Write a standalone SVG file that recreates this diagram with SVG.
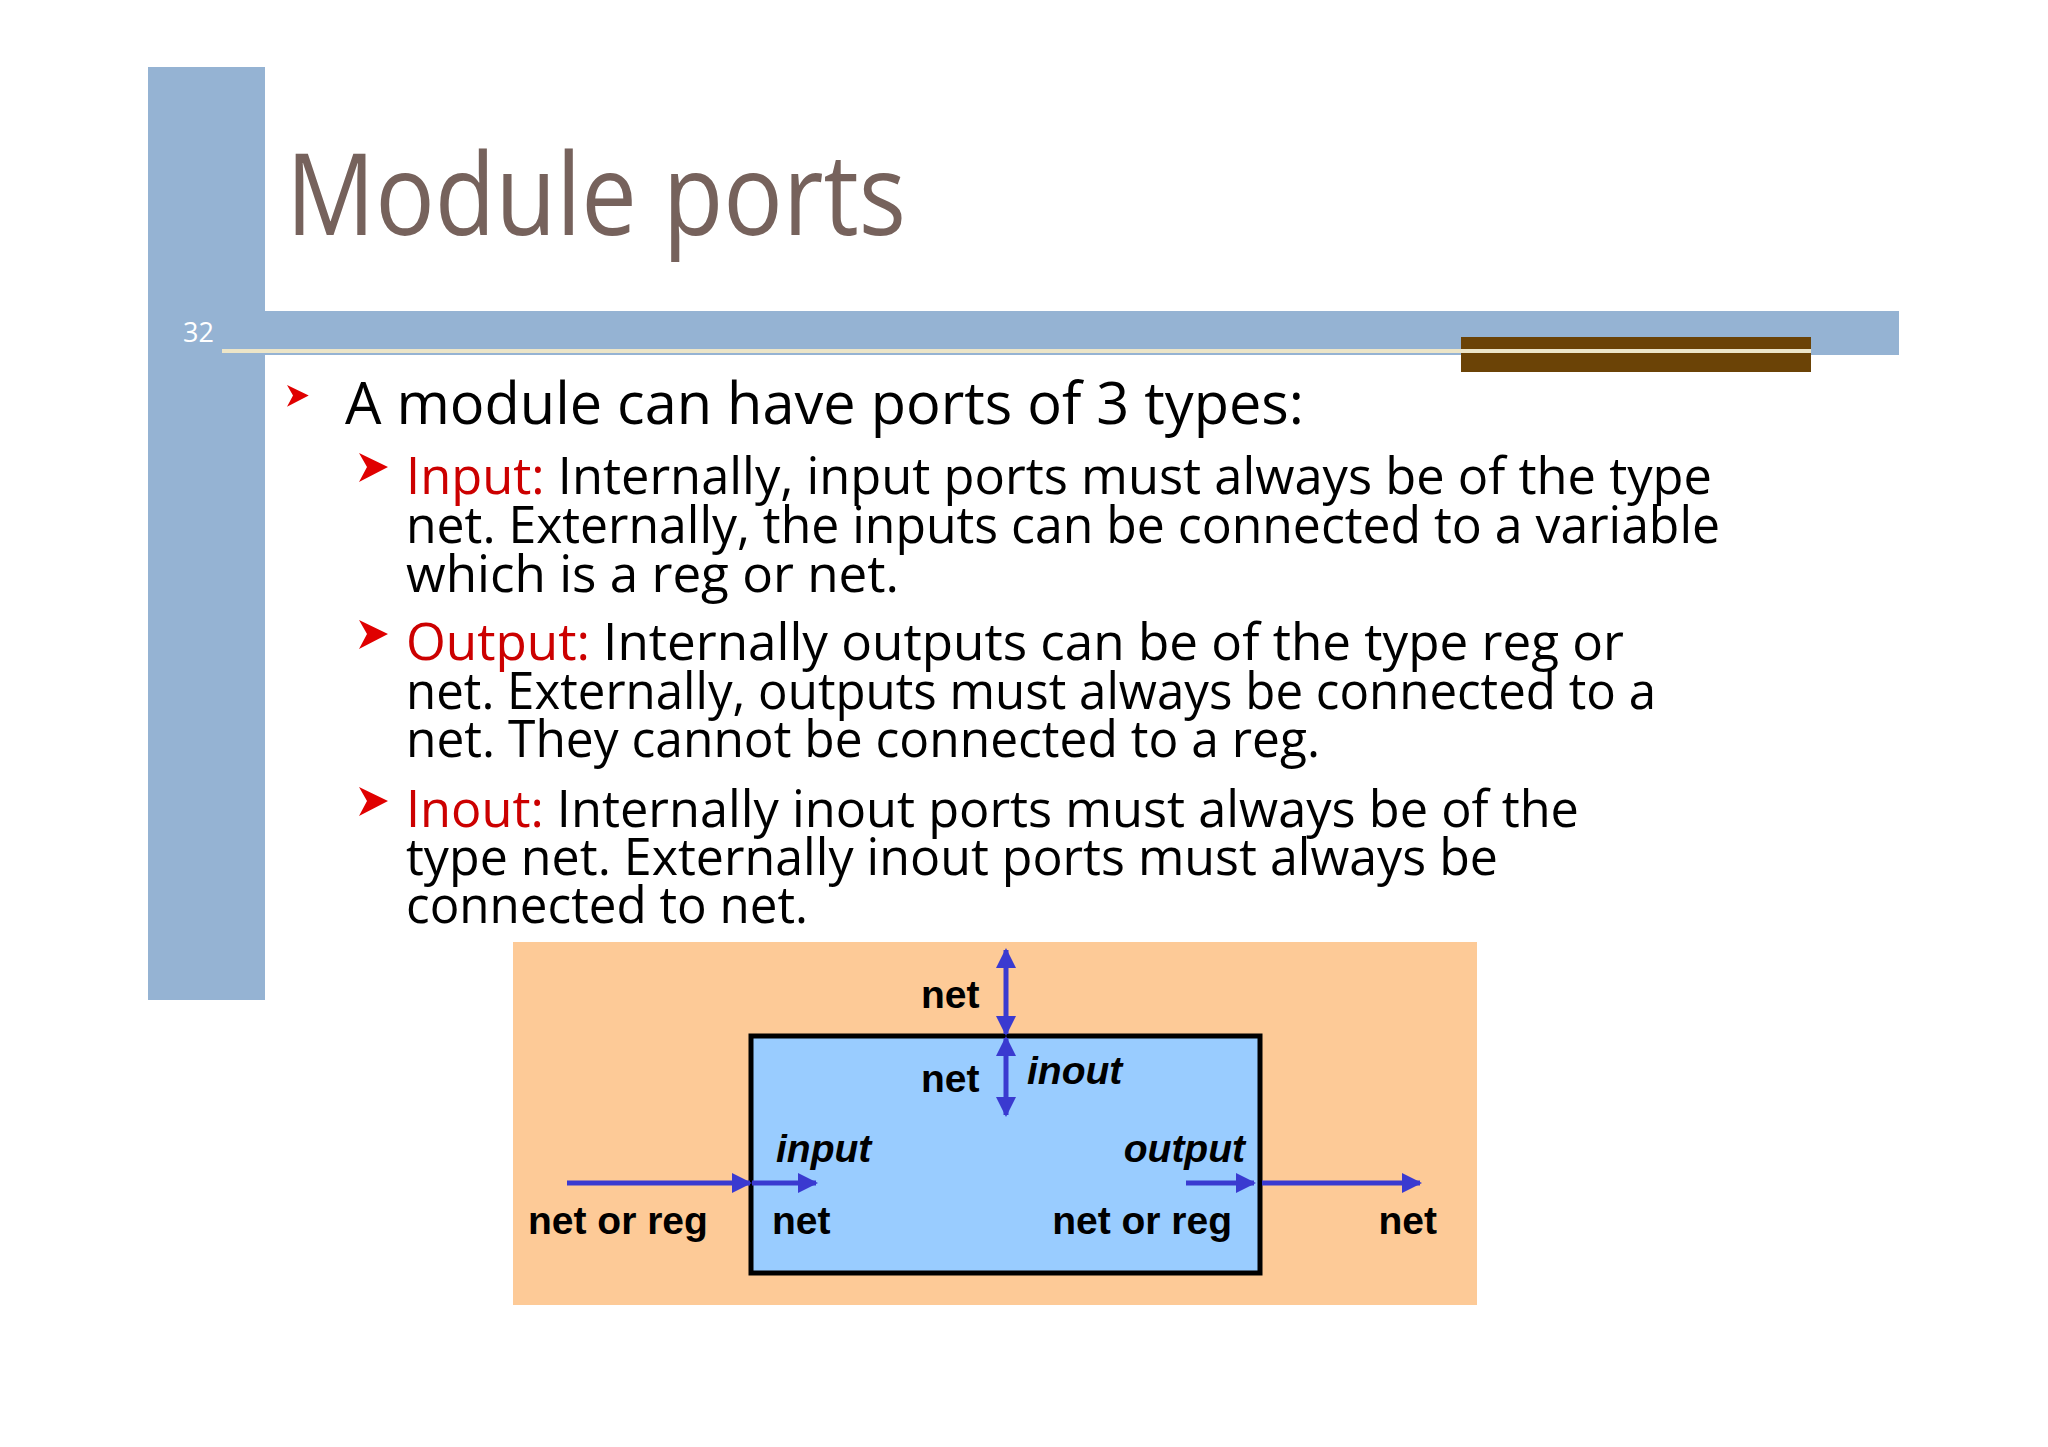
<svg xmlns="http://www.w3.org/2000/svg" width="2048" height="1447" viewBox="0 0 2048 1447">
<style>
.b{font-family:"Open Sans","Noto Sans",sans-serif;fill:#000}
.r{fill:#cc0000}
.d{font-family:"Liberation Sans",Arial,sans-serif;font-weight:bold;font-size:39px;fill:#000}
.i{font-style:italic}
.w{stroke:#3a3ad0;stroke-width:5;fill:none}
</style>
<defs>
<marker id="ah" viewBox="0 0 10 10" refX="9" refY="5" markerWidth="4" markerHeight="4" orient="auto-start-reverse" markerUnits="strokeWidth"><path d="M0,0 L10,5 L0,10 Z" fill="#3a3ad0"/></marker>
<path id="bul" d="M0,0 L29,14 L0,29 L8,14 Z" fill="#e00000"/>
</defs>
<rect width="2048" height="1447" fill="#fff"/>
<g id="frame">
<rect x="148" y="67" width="117" height="933" fill="#95b3d3"/>
<rect x="265" y="311" width="1634" height="44" fill="#95b3d3"/>
<rect x="1461" y="337" width="350" height="35" fill="#6b4306"/>
<rect x="222" y="349" width="1589" height="4" fill="#ece5c8"/>
<text x="183" y="342" font-family="Open Sans,sans-serif" font-size="27" fill="#fff">32</text>
</g>
<g id="title"><text x="286" y="235" font-family="Open Sans,sans-serif" font-size="114" fill="#76625c" textLength="620" lengthAdjust="spacingAndGlyphs">Module ports</text></g>
<g id="bullets">
<use href="#bul" x="287" y="385" transform="translate(287 385) scale(0.75) translate(-287 -385)"/>
<text class="b" x="345" y="424" font-size="58" textLength="959" lengthAdjust="spacingAndGlyphs">A module can have ports of 3 types:</text>
<use href="#bul" x="359" y="453"/>
<text class="b" x="406" y="494" font-size="52" textLength="1306" lengthAdjust="spacingAndGlyphs"><tspan class="r">Input:</tspan> Internally, input ports must always be of the type</text>
<text class="b" x="406" y="543" font-size="52" textLength="1314" lengthAdjust="spacingAndGlyphs">net. Externally, the inputs can be connected to a variable</text>
<text class="b" x="406" y="592" font-size="52" textLength="493" lengthAdjust="spacingAndGlyphs">which is a reg or net.</text>
<use href="#bul" x="359" y="620"/>
<text class="b" x="406" y="660" font-size="52" textLength="1218" lengthAdjust="spacingAndGlyphs"><tspan class="r">Output:</tspan> Internally outputs can be of the type reg or</text>
<text class="b" x="406" y="709" font-size="52" textLength="1250" lengthAdjust="spacingAndGlyphs">net. Externally, outputs must always be connected to a</text>
<text class="b" x="406" y="757" font-size="52" textLength="914" lengthAdjust="spacingAndGlyphs">net. They cannot be connected to a reg.</text>
<use href="#bul" x="359" y="787"/>
<text class="b" x="406" y="827" font-size="52" textLength="1173" lengthAdjust="spacingAndGlyphs"><tspan class="r">Inout:</tspan> Internally inout ports must always be of the</text>
<text class="b" x="406" y="875" font-size="52" textLength="1092" lengthAdjust="spacingAndGlyphs">type net. Externally inout ports must always be</text>
<text class="b" x="406" y="923" font-size="52" textLength="402" lengthAdjust="spacingAndGlyphs">connected to net.</text>
</g>
<g id="diagram">
<rect x="513" y="942" width="964" height="363" fill="#fdca97"/>
<g id="module"><rect x="751" y="1036" width="509" height="237" fill="#99ccff" stroke="#000" stroke-width="5"/></g>
<g id="connectors">
<line class="w" x1="1006" y1="950" x2="1006" y2="1034" marker-start="url(#ah)" marker-end="url(#ah)"/>
<line class="w" x1="1006" y1="1038" x2="1006" y2="1115" marker-start="url(#ah)" marker-end="url(#ah)"/>
<line class="w" x1="567" y1="1183" x2="750" y2="1183" marker-end="url(#ah)"/>
<line class="w" x1="752" y1="1183" x2="816" y2="1183" marker-end="url(#ah)"/>
<line class="w" x1="1186" y1="1183" x2="1254" y2="1183" marker-end="url(#ah)"/>
<line class="w" x1="1262" y1="1183" x2="1420" y2="1183" marker-end="url(#ah)"/>
</g>
<text class="d" x="921" y="1008">net</text>
<text class="d" x="921" y="1092">net</text>
<text class="d i" x="1027" y="1084">inout</text>
<text class="d i" x="776" y="1162">input</text>
<text class="d i" x="1245" y="1162" text-anchor="end">output</text>
<text class="d" x="528" y="1234">net or reg</text>
<text class="d" x="772" y="1234">net</text>
<text class="d" x="1232" y="1234" text-anchor="end">net or reg</text>
<text class="d" x="1437" y="1234" text-anchor="end">net</text>
</g>
</svg>
